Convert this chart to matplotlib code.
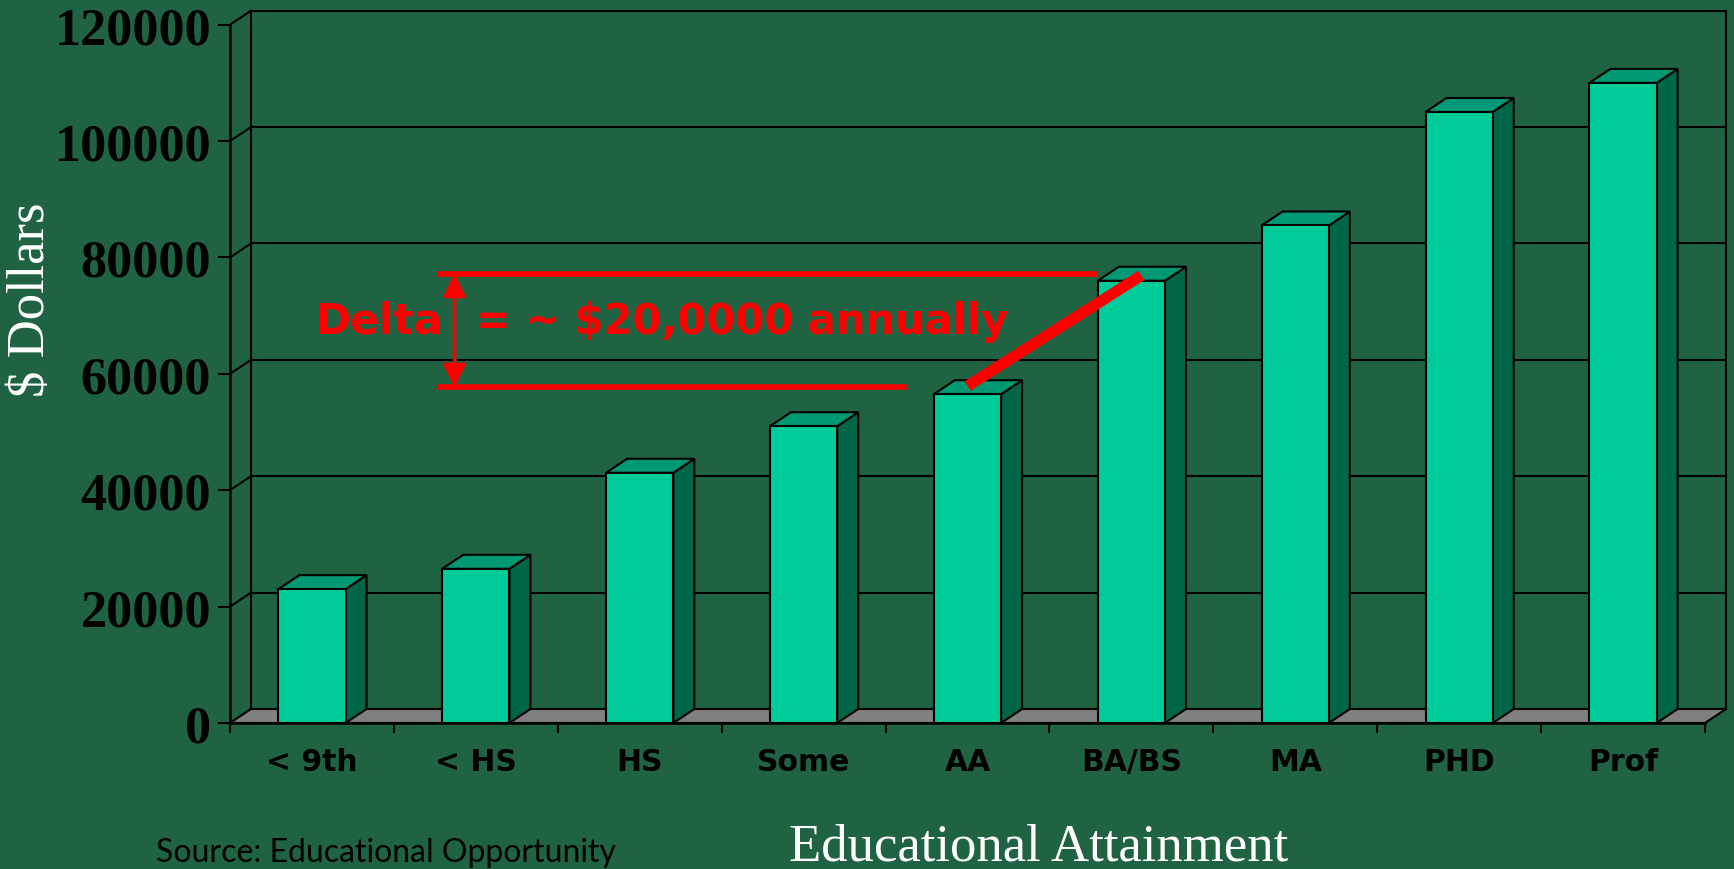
import matplotlib
matplotlib.use('Agg')
import matplotlib.pyplot as plt
from matplotlib.patches import Polygon
import numpy as np

categories = ['< 9th', '< HS', 'HS', 'Some', 'AA', 'BA/BS', 'MA', 'PHD', 'Prof']
earnings = [23000, 26500, 43000, 51000, 56500, 76000, 85500, 105000, 110000]
y_ticks = [0, 20000, 40000, 60000, 80000, 100000, 120000]

BG = '#206342'
FRONT = '#00CC99'
SIDE = '#006649'
TOP = '#009973'
FLOOR = '#808080'
RED = '#FF0000'

W, H, DPI = 1734, 870, 100


def main():
    fig = plt.figure(figsize=(W / DPI, H / DPI), dpi=DPI, facecolor=BG)

    # the axes box is the front plane of the fake 3d chart (pixel positions)
    left, right, top, bottom = 230, 1705, 25.7, 724
    ax = fig.add_axes([left / W, 1 - bottom / H, (right - left) / W, (bottom - top) / H])
    ax.set_facecolor('none')
    n = len(categories)
    ymax = y_ticks[-1]
    ax.set_xlim(-0.5, n - 0.5)
    ax.set_ylim(0, ymax)

    # depth offset in data units (about 21 px right, 14 px up)
    dx = 21 / ((right - left) / n)
    dy = 14 / ((bottom - top) / ymax)
    x0, x1 = -0.5, n - 0.5

    # back wall + left wall grid
    for v in y_ticks:
        ax.plot([x0 + dx, x1 + dx], [v + dy, v + dy], color='k', lw=1.5, clip_on=False, zorder=1)
        ax.plot([x0, x0 + dx], [v, v + dy], color='k', lw=1.5, clip_on=False, zorder=1)
    ax.plot([x0 + dx, x0 + dx], [dy, ymax + dy], color='k', lw=1.5, clip_on=False, zorder=1)
    ax.plot([x1 + dx, x1 + dx], [dy, ymax + dy], color='k', lw=1.5, clip_on=False, zorder=1)

    # floor
    floor = Polygon([(x0, 0), (x1, 0), (x1 + dx, dy), (x0 + dx, dy)], closed=True,
                    facecolor=FLOOR, edgecolor='k', lw=1.5, clip_on=False, zorder=2)
    ax.add_patch(floor)

    # bars
    w = 0.41
    for i, v in enumerate(earnings):
        xl, xr = i - w / 2, i + w / 2
        side = Polygon([(xr, 0), (xr + dx, dy), (xr + dx, v + dy), (xr, v)],
                       facecolor=SIDE, edgecolor='k', lw=1.5, clip_on=False, zorder=3)
        topf = Polygon([(xl, v), (xr, v), (xr + dx, v + dy), (xl + dx, v + dy)],
                       facecolor=TOP, edgecolor='k', lw=1.5, clip_on=False, zorder=3)
        front = Polygon([(xl, 0), (xr, 0), (xr, v), (xl, v)],
                        facecolor=FRONT, edgecolor='k', lw=1.5, clip_on=False, zorder=4)
        ax.add_patch(side)
        ax.add_patch(topf)
        ax.add_patch(front)

    # axes / ticks
    for s in ['top', 'right']:
        ax.spines[s].set_visible(False)
    ax.spines['left'].set_linewidth(1.8)
    ax.spines['bottom'].set_linewidth(1.8)
    ax.spines['bottom'].set_zorder(5)

    ax.set_xticks(np.arange(n + 1) - 0.5)
    ax.set_xticklabels([])
    ax.set_xticks(np.arange(n), minor=True)
    ax.set_xticklabels(categories, minor=True, fontsize=21.5, fontweight='bold',
                       family='DejaVu Sans', color='k')
    ax.tick_params(axis='x', which='major', direction='out', length=7, width=1.5, color='k')
    ax.tick_params(axis='x', which='minor', length=0, pad=17)

    ax.set_yticks(y_ticks)
    ax.set_yticklabels([str(v) for v in y_ticks], fontsize=37.5, fontweight='bold',
                       family='Liberation Serif', color='k')
    ax.tick_params(axis='y', direction='out', length=8.5, width=1.5, color='k', pad=5)

    # red annotation
    y_hi, y_lo = 77200, 57700
    ax.plot([0.78, 4.78], [y_hi, y_hi], color=RED, lw=4, clip_on=False, zorder=6)
    ax.plot([0.78, 3.61], [y_lo, y_lo], color=RED, lw=4, clip_on=False, zorder=6)
    ax.annotate('', xy=(0.87, y_hi), xytext=(0.87, y_lo),
                arrowprops=dict(arrowstyle='<|-|>', color=RED, lw=2.5, mutation_scale=34,
                                shrinkA=0, shrinkB=0), zorder=6)
    ax.plot([4.0, 5.06], [57900, 76900], color=RED, lw=8, solid_capstyle='butt',
            clip_on=False, zorder=6)
    ax.text(0.02, 67100, 'Delta', color=RED, fontsize=30.5, fontweight='bold',
            family='DejaVu Sans', va='baseline', ha='left', zorder=6)
    ax.text(1.0, 67100, '= ~ $20,0000 annually', color=RED, fontsize=30, fontweight='bold',
            family='DejaVu Sans', va='baseline', ha='left', zorder=6)

    # labels
    fig.text(31 / W, 1 - 300 / H, '$ Dollars', rotation=90, color='white', fontsize=38,
             family='Liberation Serif', ha='center', va='center')
    fig.text(1039 / W, 1 - 861 / H, 'Educational Attainment', color='white', fontsize=38,
             family='Liberation Serif', ha='center', va='baseline')
    fig.text(156 / W, 1 - 862 / H, 'Source: Educational Opportunity', color='k', fontsize=23,
             family=['Lato', 'DejaVu Sans'], ha='left', va='baseline')

    fig.savefig('out.png', dpi=DPI, facecolor=BG)
    plt.close(fig)


if __name__ == '__main__':
    main()
